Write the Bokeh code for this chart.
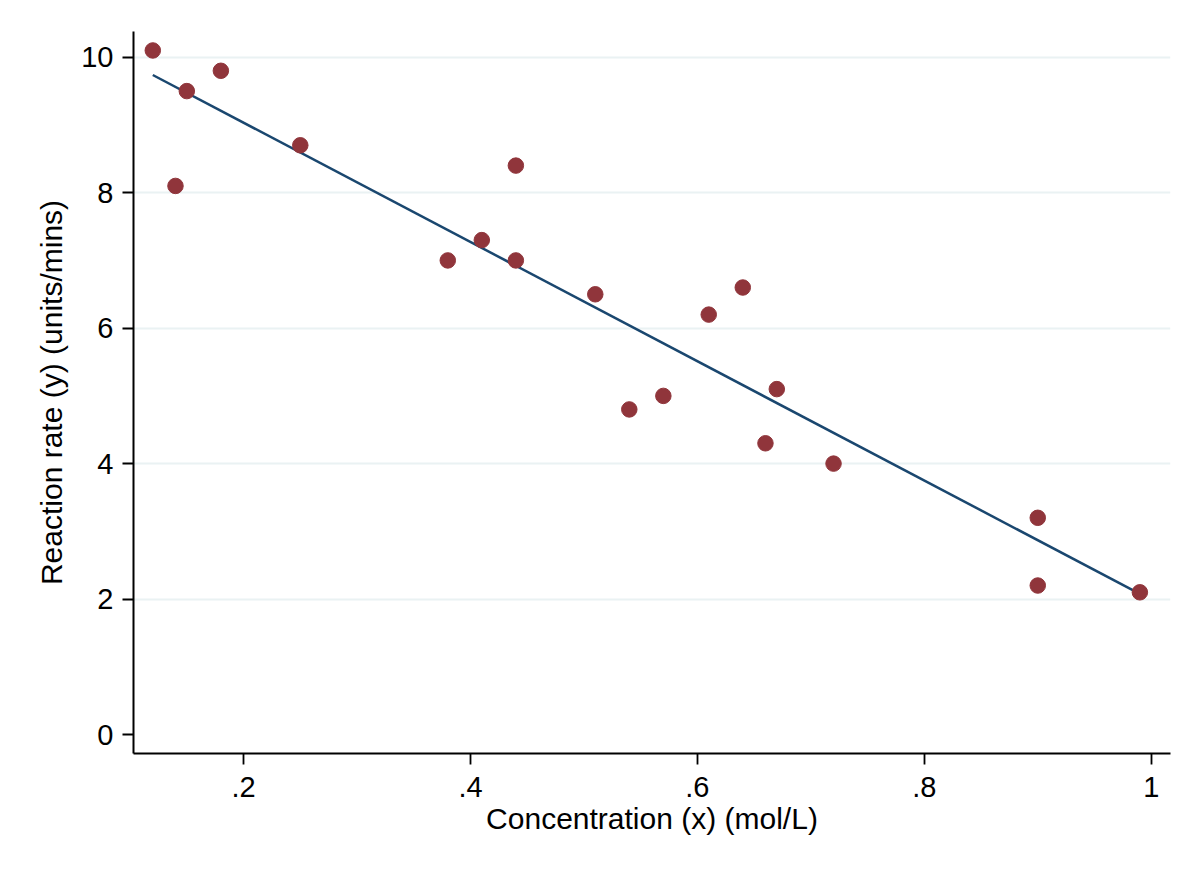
import numpy as np
from bokeh.plotting import figure
from bokeh.models import Range1d, FixedTicker
from bokeh.embed import file_html
from bokeh.resources import INLINE

# Data
concentration = [0.12, 0.14, 0.15, 0.18, 0.25, 0.38, 0.41, 0.44, 0.44, 0.51,
                 0.54, 0.57, 0.61, 0.64, 0.66, 0.67, 0.72, 0.90, 0.90, 0.99]
reaction_rate = [10.1, 8.1, 9.5, 9.8, 8.7, 7.0, 7.3, 8.4, 7.0, 6.5,
                 4.8, 5.0, 6.2, 6.6, 4.3, 5.1, 4.0, 3.2, 2.2, 2.1]
x_ticks = [0.2, 0.4, 0.6, 0.8, 1.0]
x_tick_labels = [".2", ".4", ".6", ".8", "1"]
y_ticks = [0, 2, 4, 6, 8, 10]
y_grid = [2, 4, 6, 8, 10]

# Linear fit
slope, intercept = np.polyfit(concentration, reaction_rate, 1)
fit_x = [min(concentration), max(concentration)]
fit_y = [intercept + slope * v for v in fit_x]

FONT = "Liberation Sans"

p = figure(width=1184, height=857, output_backend="svg", toolbar_location=None,
           x_range=Range1d(0.103, 1.017), y_range=Range1d(-0.28, 10.38),
           min_border_left=133, min_border_right=14, min_border_top=31,
           min_border_bottom=104)
p.outline_line_color = None
p.background_fill_color = "white"
p.border_fill_color = "white"

p.line(fit_x, fit_y, line_color="#1A476F", line_width=2.5)
p.scatter(concentration, reaction_rate, size=15.5, fill_color="#90353B",
          line_color="#90353B")

for ax in (p.xaxis[0], p.yaxis[0]):
    ax.axis_line_color = "black"
    ax.axis_line_width = 2
    ax.major_tick_line_color = "black"
    ax.major_tick_line_width = 1.8
    ax.major_tick_out = 11
    ax.major_tick_in = 0
    ax.minor_tick_line_color = None
    ax.major_label_text_font = FONT
    ax.major_label_text_font_size = "29px"
    ax.major_label_text_color = "black"
    ax.axis_label_text_font = FONT
    ax.axis_label_text_font_size = "30px"
    ax.axis_label_text_font_style = "normal"
    ax.axis_label_text_color = "black"

p.xaxis[0].ticker = FixedTicker(ticks=x_ticks)
p.xaxis[0].major_label_overrides = {t: l for t, l in zip(x_ticks, x_tick_labels)}
p.xaxis[0].major_label_standoff = 12
p.xaxis[0].axis_label = "Concentration (x) (mol/L)"
p.xaxis[0].axis_label_standoff = 2

p.yaxis[0].ticker = FixedTicker(ticks=y_ticks)
p.yaxis[0].major_label_orientation = "horizontal"
p.yaxis[0].major_label_standoff = 9
p.yaxis[0].axis_label = "Reaction rate (y) (units/mins)"
p.yaxis[0].axis_label_standoff = 10

p.xgrid.visible = False
p.ygrid[0].ticker = FixedTicker(ticks=y_grid)
p.ygrid[0].grid_line_color = "#EAF2F3"
p.ygrid[0].grid_line_width = 2

open("out.html", "w").write(file_html(p, INLINE))
